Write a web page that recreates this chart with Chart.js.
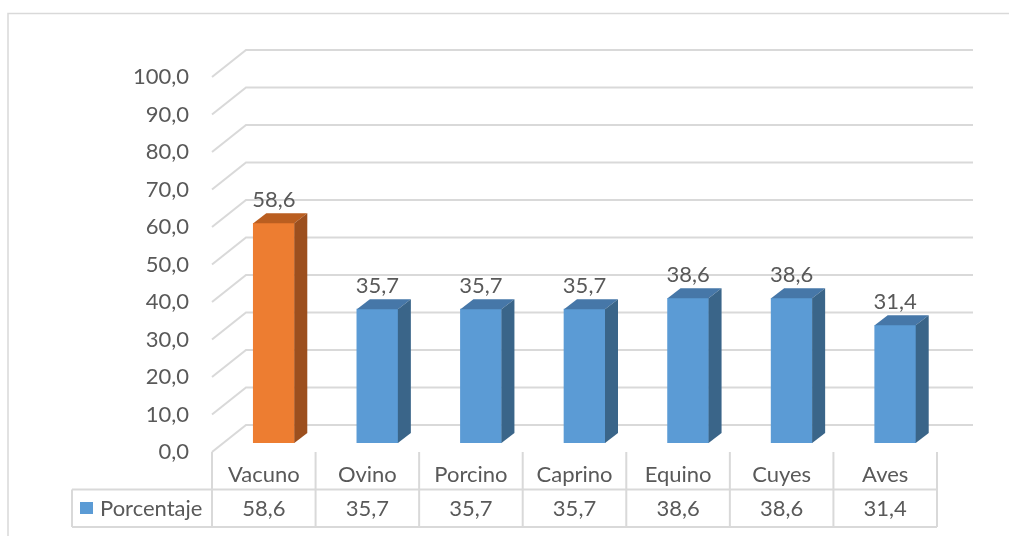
<!DOCTYPE html>
<html>
<head>
<meta charset="utf-8">
<script src="https://cdn.jsdelivr.net/npm/chart.js@4.4.1/dist/chart.umd.min.js"></script>
<style>
  body { margin: 0; background: #fff; }
</style>
</head>
<body>
<canvas id="chart" width="1009" height="536"></canvas>
<script>
// data
const categories = ["Vacuno", "Ovino", "Porcino", "Caprino", "Equino", "Cuyes", "Aves"];
const porcentaje = [58.6, 35.7, 35.7, 35.7, 38.6, 38.6, 31.4];
const yTicks = [0, 10, 20, 30, 40, 50, 60, 70, 80, 90, 100];
const seriesName = "Porcentaje";

// look
const FONT = "Lato, 'Open Sans', sans-serif";
const FONT_SIZE = 22;
const TEXT = "#595959";
const GRID = "#d9d9d9";
const frontColors = ["#ED7D31", "#5B9BD5", "#5B9BD5", "#5B9BD5", "#5B9BD5", "#5B9BD5", "#5B9BD5"];
const topColors = ["#BA5E20", "#4677A8", "#4677A8", "#4677A8", "#4677A8", "#4677A8", "#4677A8"];
const sideColors = ["#9C4F1E", "#3A6589", "#3A6589", "#3A6589", "#3A6589", "#3A6589", "#3A6589"];

// depth offsets of the fake 3d
const FRONT_DX = -10, FRONT_DY = 9;
const BACK_DX = 24, BACK_DY = -18;
const BAR_DX = 13, BAR_DY = -10;

const fmt = v => v.toFixed(1).replace(".", ",");

function poly(ctx, pts, fill) {
  ctx.beginPath();
  ctx.moveTo(pts[0][0], pts[0][1]);
  for (let i = 1; i < pts.length; i++) ctx.lineTo(pts[i][0], pts[i][1]);
  ctx.closePath();
  ctx.fillStyle = fill;
  ctx.fill();
}

const fake3d = {
  id: "fake3d",
  beforeDraw(chart) {
    const ctx = chart.ctx;
    ctx.save();
    ctx.fillStyle = "#fff";
    ctx.fillRect(0, 0, chart.width, chart.height);
    ctx.strokeStyle = GRID;
    ctx.lineWidth = 1.5;
    ctx.strokeRect(8, 13.5, 1020, 560);
    ctx.restore();
  },
  beforeDatasetsDraw(chart) {
    const { ctx, chartArea: a, scales: { y } } = chart;
    ctx.save();
    ctx.strokeStyle = GRID;
    ctx.lineWidth = 2;
    yTicks.forEach(v => {
      const py = y.getPixelForValue(v);
      ctx.beginPath();
      ctx.moveTo(a.left + FRONT_DX, py + FRONT_DY);
      ctx.lineTo(a.left + BACK_DX, py + BACK_DY);
      ctx.lineTo(a.right + 26, py + BACK_DY);
      ctx.stroke();
    });
    ctx.restore();
  },
  afterDatasetsDraw(chart) {
    const { ctx, scales: { x } } = chart;
    const meta = chart.getDatasetMeta(0);
    ctx.save();
    ctx.font = FONT_SIZE + "px " + FONT;
    meta.data.forEach((bar, i) => {
      const p = bar.getProps(["x", "y", "base", "width"], true);
      const l = p.x - p.width / 2, r = p.x + p.width / 2;
      poly(ctx, [[l, p.y], [l + BAR_DX, p.y + BAR_DY], [r + BAR_DX, p.y + BAR_DY], [r, p.y]], topColors[i]);
      poly(ctx, [[r, p.y], [r + BAR_DX, p.y + BAR_DY], [r + BAR_DX, p.base + BAR_DY], [r, p.base]], sideColors[i]);
      ctx.fillStyle = TEXT;
      ctx.textAlign = "center";
      ctx.textBaseline = "middle";
      ctx.fillText(fmt(porcentaje[i]), p.x, p.y - 23);
    });

    // data table under the plot
    const colW = x.getPixelForValue(1) - x.getPixelForValue(0);
    const left = x.getPixelForValue(0) - colW / 2 + FRONT_DX;
    const right = left + colW * categories.length;
    const top = 452, mid = 489.5, bottom = 527;
    ctx.strokeStyle = GRID;
    ctx.lineWidth = 2;
    ctx.beginPath();
    for (let i = 0; i <= categories.length; i++) {
      const bx = left + i * colW;
      ctx.moveTo(bx, top);
      ctx.lineTo(bx, bottom);
    }
    ctx.moveTo(72, mid); ctx.lineTo(right, mid);
    ctx.moveTo(72, bottom); ctx.lineTo(right, bottom);
    ctx.moveTo(72, mid); ctx.lineTo(72, bottom);
    ctx.stroke();

    ctx.fillStyle = "#5B9BD5";
    ctx.fillRect(80, 502, 13, 12);

    ctx.fillStyle = TEXT;
    ctx.textBaseline = "middle";
    ctx.textAlign = "left";
    ctx.fillText(seriesName, 100, 509);
    ctx.textAlign = "center";
    categories.forEach((c, i) => {
      const cx = left + (i + 0.5) * colW;
      ctx.fillText(c, cx, 475);
      ctx.fillText(fmt(porcentaje[i]), cx, 509);
    });
    ctx.restore();
  }
};

new Chart(document.getElementById("chart"), {
  type: "bar",
  data: {
    labels: categories,
    datasets: [{
      label: seriesName,
      data: porcentaje,
      backgroundColor: frontColors,
      borderWidth: 0,
      barThickness: 41
    }]
  },
  options: {
    responsive: false,
    animation: false,
    layout: { padding: { left: 102, right: 62, top: 68, bottom: 93 } },
    plugins: { legend: { display: false }, tooltip: { enabled: false } },
    scales: {
      x: { display: false },
      y: {
        min: 0,
        max: 100,
        afterFit(s) { s.width = 120; },
        grid: { display: false, drawTicks: false },
        border: { display: false },
        ticks: {
          stepSize: 10,
          padding: 33,
          labelOffset: 9,
          color: TEXT,
          font: { family: FONT, size: FONT_SIZE },
          callback: v => fmt(v)
        }
      }
    }
  },
  plugins: [fake3d]
});
</script>
</body>
</html>
